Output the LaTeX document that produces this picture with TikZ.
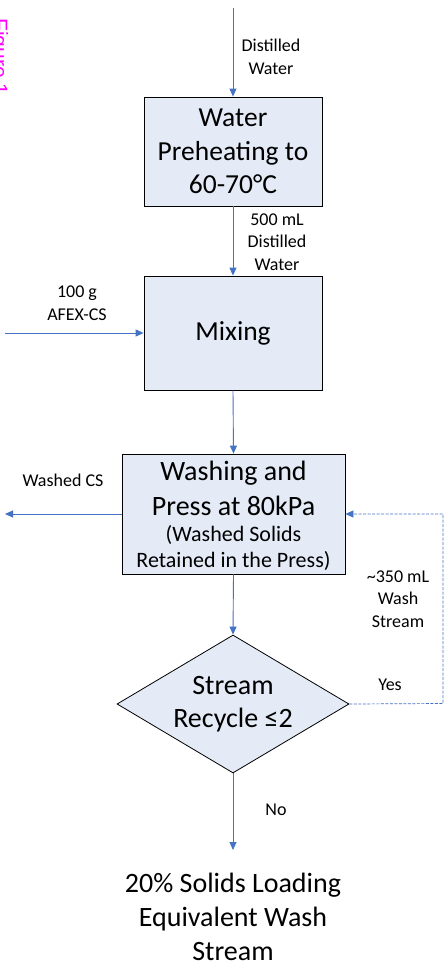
\documentclass[tikz,border=0pt]{standalone}
\usepackage{fontspec}
\setmainfont{Carlito}
\newfontfamily\figfont{Liberation Sans}
\usetikzlibrary{shapes.geometric,arrows.meta}
\definecolor{arrowblue}{HTML}{4472C4}
\definecolor{boxfill}{HTML}{E4EBF6}
\definecolor{figmagenta}{HTML}{FF00FF}
\begin{document}
\begin{tikzpicture}[x=1pt,y=-1pt,
  procbox/.style={draw=black, line width=0.8pt, fill=boxfill, inner sep=0pt, align=center},
  flow/.style={draw=arrowblue, line width=0.9pt, -{Triangle[length=8pt,width=7pt]}},
  flowdash/.style={flow, line width=0.7pt, dash pattern=on 3pt off 1.5pt},
  smalllabel/.style={align=center, font=\fontsize{18}{22.5}\selectfont, inner sep=0pt},
  bigtext/.style={align=center, font=\fontsize{27.5}{33.5}\selectfont, inner sep=0pt}]
\useasboundingbox (0,0) rectangle (445,963);

% figure tag
\node[rotate=-90, anchor=base west, text=figmagenta, font=\figfont\fontsize{21}{21}\selectfont, inner sep=0pt] (figtag) at (-7,18) {Figure 1};

% boxes
\node[procbox, bigtext, minimum width=178pt, minimum height=109pt] (preheat) at (233,151.5) {Water\\Preheating to\\60-70°C};
\node[procbox, bigtext, minimum width=178pt, minimum height=114pt] (mix) at (233,333) {Mixing};
\node[procbox, minimum width=223pt, minimum height=120pt] (wash) at (233.5,514) {};
\node[bigtext, font=\fontsize{28}{35}\selectfont] (washtop) at (233.5,488) {Washing and\\Press at 80kPa};
\node[bigtext, font=\fontsize{22}{25.5}\selectfont] (washbot) at (233.5,548) {(Washed Solids\\Retained in the Press)};
\node[diamond, draw=black, line width=0.8pt, fill=boxfill, inner sep=0pt, aspect=1.68,
      minimum width=232pt, minimum height=138pt, align=center, font=\fontsize{28}{33}\selectfont] (dec) at (233,704) {Stream\\Recycle ≤2};
\node[bigtext, font=\fontsize{28}{34}\selectfont] (result) at (233,917) {20\% Solids Loading\\Equivalent Wash\\Stream};

% free ends
\coordinate (topin) at (233,8);
\coordinate (afexin) at (5,333);
\coordinate (washout) at (5,514);
\coordinate (resultin) at (233,850);
\coordinate (loopcorner) at (443,703.5);

% connectors
\draw[flow] (topin) -- (preheat.north);
\draw[flow] (preheat.south) -- (mix.north);
\draw[flow] (afexin) -- (mix.west);
\draw[flow] (mix.south) -- (wash.north);
\draw[flow] (wash.west) -- (washout);
\draw[flow] (wash.south) -- (dec.north);
\draw[flow] (dec.south) -- (resultin);
\draw[flowdash] (dec.east) -- (loopcorner) |- (wash.east);

% labels
\node[smalllabel] (lbldw) at (271,57) {Distilled\\Water};
\node[smalllabel] (lbl500) at (277,242) {500 mL\\Distilled\\Water};
\node[smalllabel] (lblafex) at (77,303) {100 g\\AFEX-CS};
\node[smalllabel] (lblwcs) at (63,480) {Washed CS};
\node[smalllabel] (lbl350) at (398,599) {\textasciitilde350 mL\\Wash\\Stream};
\node[smalllabel] (lblyes) at (390,685) {Yes};
\node[smalllabel] (lblno) at (276,810) {No};
\end{tikzpicture}
\end{document}
